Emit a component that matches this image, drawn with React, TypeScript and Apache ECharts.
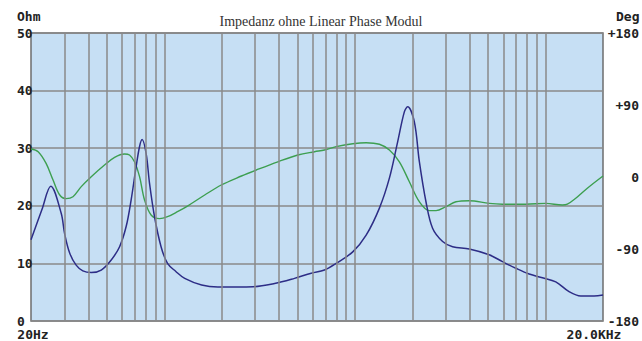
import React, { useEffect, useRef } from 'react';
import * as echarts from 'echarts';

const chartTitle = 'Impedanz ohne Linear Phase Modul';
const leftUnit = 'Ohm';
const rightUnit = 'Deg';

// Impedance curve (Hz, Ohm)
const impFreq = [20, 22.8, 25.4, 28.8, 30.0, 31.9, 34.5, 37.4, 41.4, 46.7, 52.7, 58.3, 63.1, 67.0, 71.2, 74.2, 76.5, 80.3, 83.7, 88.9, 96.2, 104, 115, 128, 157, 191, 292, 379, 482, 590, 692, 797, 974, 1145, 1344, 1516, 1675, 1816, 1890, 2048, 2176, 2358, 2554, 2883, 3252, 3977, 5060, 5940, 6982, 8198, 9624, 11306, 13274, 15286, 17946, 20000];
const impOhm = [14.1, 19.3, 23.4, 18.7, 15.2, 11.8, 9.7, 8.7, 8.4, 8.85, 10.6, 12.9, 16.4, 21.0, 26.8, 30.3, 31.5, 29.1, 23.9, 18.1, 12.9, 10.0, 8.6, 7.4, 6.25, 5.9, 5.95, 6.5, 7.4, 8.3, 8.85, 10.0, 12.0, 14.9, 19.6, 24.8, 31.1, 36.3, 37.2, 34.6, 27.7, 20.7, 16.1, 13.8, 12.9, 12.5, 11.5, 10.3, 9.15, 8.15, 7.5, 6.8, 5.1, 4.35, 4.35, 4.5];

// Phase curve (Hz, degrees)
const phaseFreq = [20, 21.8, 24.0, 26.1, 28.3, 30.6, 33.2, 36.7, 41.4, 48.6, 54.9, 61.9, 65.7, 69.8, 74.2, 78.8, 85.3, 94.4, 104, 118, 133, 163, 199, 254, 304, 394, 502, 614, 692, 797, 974, 1145, 1344, 1516, 1710, 1929, 2176, 2454, 2662, 3002, 3388, 3977, 5060, 5940, 7878, 10024, 12242, 13004, 14392, 16554, 20000];
const phaseDeg = [35, 31.6, 17, -3.75, -22.5, -27, -24.6, -12, 0.4, 15, 24.6, 28.75, 27.5, 19, 0.4, -28.75, -47.5, -52, -49.6, -43, -36, -22.5, -10, 1.25, 8.75, 19, 27.5, 31.6, 33.75, 37.9, 41.6, 42.9, 40.9, 33.75, 19, -5.9, -30.9, -42, -42, -37, -31, -29.6, -33, -34, -34, -33, -35, -34, -26.6, -14, 1.25];

// Vertical grid frequencies
const gridFreqs = [30, 40, 50, 60, 70, 80, 90, 100, 200, 300, 400, 500, 600, 700, 800, 900, 1000, 2000, 3000, 4000, 5000, 6000, 7000, 8000, 9000, 10000];
const xLabelValues = [20, 20000];
const xLabelTexts = ['20Hz', '20.0KHz'];

const MONO = '"DejaVu Sans Mono", monospace';
const GRID_COLOR = '#8a8a8a';

export default function App() {
  const ref = useRef<HTMLDivElement>(null);
  useEffect(() => {
    if (!ref.current) return;
    const chart = echarts.init(ref.current, undefined, { renderer: 'svg' });
    const option: any = {
      animation: false,
      backgroundColor: '#ffffff',
      title: {
        text: chartTitle,
        left: 'center',
        top: 9,
        textStyle: { fontFamily: '"Liberation Serif", serif', fontSize: 14, fontWeight: 'normal', color: '#333' },
      },
      graphic: [
        { type: 'text', left: 17, top: 10, style: { text: leftUnit, font: `bold 13px ${MONO}`, fill: '#222' } },
        { type: 'text', left: 616, top: 10, style: { text: rightUnit, font: `bold 13px ${MONO}`, fill: '#222' } },
      ],
      grid: {
        left: 31, right: 38, top: 33, bottom: 20,
        show: true, backgroundColor: '#c6dff4', borderColor: '#6e6e6e', borderWidth: 1.5,
      },
      xAxis: {
        type: 'log', logBase: 10, min: 20, max: 20000,
        axisLine: { show: false }, axisTick: { show: false }, splitLine: { show: false },
        axisLabel: {
          customValues: xLabelValues,
          margin: 7,
          fontFamily: MONO, fontWeight: 'bold', fontSize: 13, color: '#222',
          formatter: (v: number) => {
            const i = xLabelValues.findIndex((x) => Math.abs(x - v) / x < 0.01);
            if (i < 0) return '';
            return i === 1 ? `{r|${xLabelTexts[i]}}` : `{l|${xLabelTexts[i]}}`;
          },
          rich: {
            l: { fontFamily: MONO, fontWeight: 'bold', fontSize: 13, color: '#222', padding: [0, 0, 0, 4] },
            r: { fontFamily: MONO, fontWeight: 'bold', fontSize: 13, color: '#222', padding: [0, 18, 0, 0] },
          },
        },
      },
      yAxis: [
        {
          type: 'value', min: 0, max: 50, interval: 10,
          axisLine: { show: false }, axisTick: { show: false },
          splitLine: { show: true, lineStyle: { color: GRID_COLOR, width: 1.5 } },
          axisLabel: { align: 'left', margin: 14, fontFamily: MONO, fontWeight: 'bold', fontSize: 13, color: '#222' },
        },
        {
          type: 'value', min: -180, max: 180, interval: 90, position: 'right',
          axisLine: { show: false }, axisTick: { show: false }, splitLine: { show: false },
          axisLabel: {
            align: 'right', margin: 36, fontFamily: MONO, fontWeight: 'bold', fontSize: 13, color: '#222',
            formatter: (v: number) => (v > 0 ? `+${v}` : `${v}`),
          },
        },
      ],
      series: [
        {
          name: 'grid', type: 'line', data: [], z: 1, silent: true,
          markLine: {
            silent: true, symbol: 'none', label: { show: false },
            lineStyle: { color: GRID_COLOR, width: 1.5, type: 'solid' },
            emphasis: { disabled: true },
            data: gridFreqs.map((f) => ({ xAxis: f })),
          },
        },
        {
          name: 'Phase', type: 'line', yAxisIndex: 1, z: 3,
          data: phaseFreq.map((f, i) => [f, phaseDeg[i]]),
          showSymbol: false, smooth: 0.35,
          lineStyle: { color: '#3d9f50', width: 1.4 },
        },
        {
          name: 'Impedanz', type: 'line', yAxisIndex: 0, z: 4,
          data: impFreq.map((f, i) => [f, impOhm[i]]),
          showSymbol: false, smooth: 0.35,
          lineStyle: { color: '#2d2d86', width: 1.5 },
        },
      ],
    };
    chart.setOption(option);
    return () => chart.dispose();
  }, []);
  return <div ref={ref} style={{ position: 'absolute', left: 0, top: 0, width: 642, height: 341 }} />;
}
